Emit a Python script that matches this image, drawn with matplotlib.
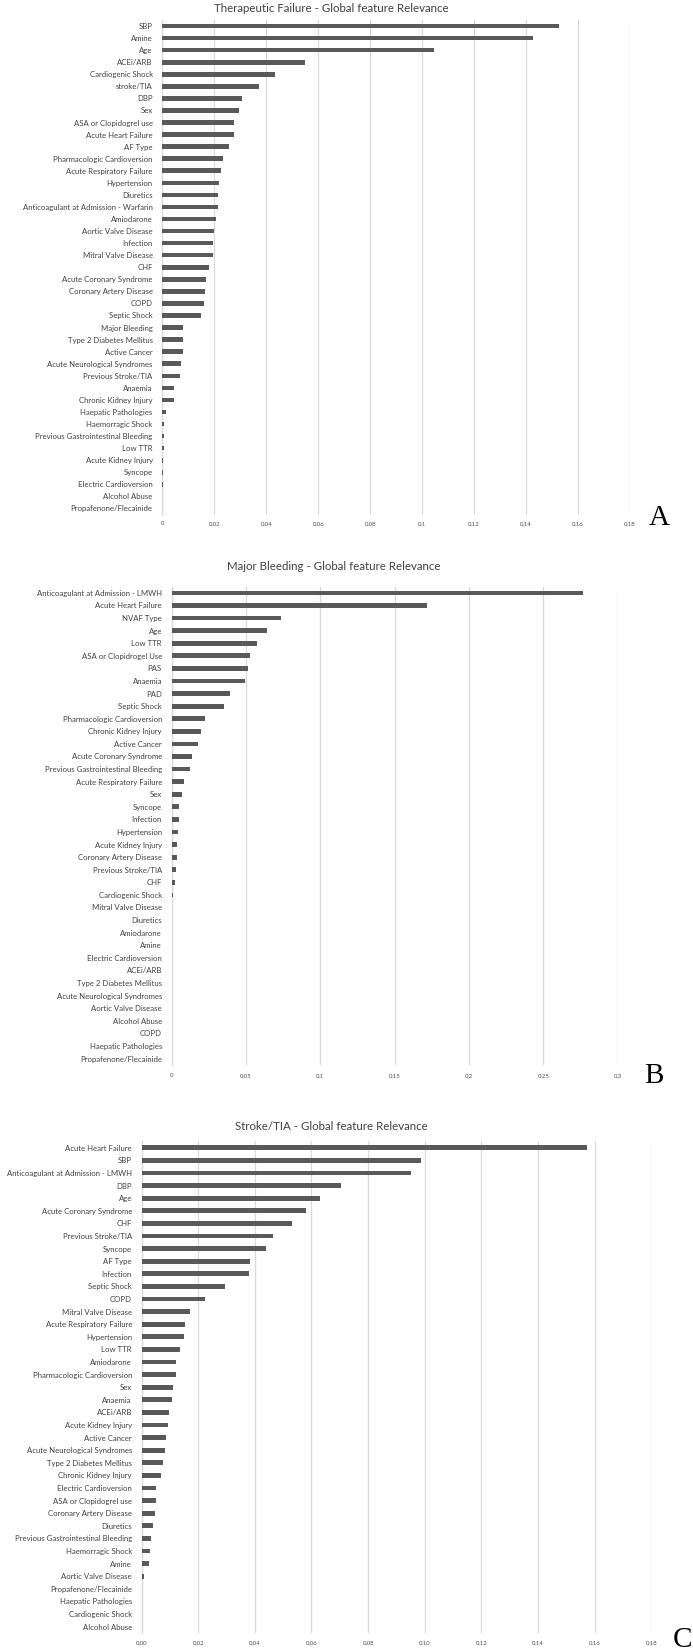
import matplotlib
matplotlib.use("Agg")
import matplotlib.pyplot as plt
from matplotlib.ticker import FuncFormatter

# Panel A - Therapeutic Failure
labels_a = ["SBP", "Amine", "Age", "ACEi/ARB", "Cardiogenic Shock", "stroke/TIA", "DBP", "Sex",
            "ASA or Clopidogrel use", "Acute Heart Failure", "AF Type", "Pharmacologic Cardioversion",
            "Acute Respiratory Failure", "Hypertension", "Diuretics",
            "Anticoagulant at Admission - Warfarin", "Amiodarone", "Aortic Valve Disease", "Infection",
            "Mitral Valve Disease", "CHF", "Acute Coronary Syndrome", "Coronary Artery Disease", "COPD",
            "Septic Shock", "Major Bleeding", "Type 2 Diabetes Mellitus", "Active Cancer",
            "Acute Neurological Syndromes", "Previous Stroke/TIA", "Anaemia", "Chronic Kidney Injury",
            "Haepatic Pathologies", "Haemorragic Shock", "Previous Gastrointestinal Bleeding", "Low TTR",
            "Acute Kidney Injury", "Syncope", "Electric Cardioversion", "Alcohol Abuse",
            "Propafenone/Flecainide"]
values_a = [0.1526, 0.1426, 0.1046, 0.0549, 0.0433, 0.0371, 0.0305, 0.0295, 0.0275, 0.0274,
            0.0256, 0.0233, 0.0227, 0.0218, 0.0215, 0.0213, 0.0208, 0.0198, 0.0194, 0.0193,
            0.0179, 0.0167, 0.0165, 0.0162, 0.0147, 0.0080, 0.0080, 0.0078, 0.0073, 0.0066,
            0.0046, 0.0046, 0.0012, 0.0007, 0.0007, 0.0005, 0.0002, 0.0002, 0.0002, 0.0, 0.0]
ticks_a = [0, 0.02, 0.04, 0.06, 0.08, 0.1, 0.12, 0.14, 0.16, 0.18]

# Panel B - Major Bleeding
labels_b = ["Anticoagulant at Admission - LMWH", "Acute Heart Failure", "NVAF Type", "Age", "Low TTR",
            "ASA or Clopidrogel Use", "PAS", "Anaemia", "PAD", "Septic Shock",
            "Pharmacologic Cardioversion", "Chronic Kidney Injury", "Active Cancer",
            "Acute Coronary Syndrome", "Previous Gastrointestinal Bleeding", "Acute Respiratory Failure",
            "Sex", "Syncope", "Infection", "Hypertension", "Acute Kidney Injury",
            "Coronary Artery Disease", "Previous Stroke/TIA", "CHF", "Cardiogenic Shock",
            "Mitral Valve Disease", "Diuretics", "Amiodarone", "Amine", "Electric Cardioversion",
            "ACEi/ARB", "Type 2 Diabetes Mellitus", "Acute Neurological Syndromes",
            "Aortic Valve Disease", "Alcohol Abuse", "COPD", "Haepatic Pathologies",
            "Propafenone/Flecainide"]
values_b = [0.2765, 0.1717, 0.0735, 0.0640, 0.0577, 0.0524, 0.0515, 0.0491, 0.0390, 0.0354,
            0.0223, 0.0199, 0.0176, 0.0134, 0.0125, 0.0086, 0.0068, 0.0048, 0.0048, 0.0042,
            0.0036, 0.0036, 0.0030, 0.0024, 0.0009, 0.0003, 0.0003, 0.0, 0.0, 0.0,
            0.0, 0.0, 0.0, 0.0, 0.0, 0.0, 0.0, 0.0]
ticks_b = [0, 0.05, 0.1, 0.15, 0.2, 0.25, 0.3]

# Panel C - Stroke/TIA
labels_c = ["Acute Heart Failure", "SBP", "Anticoagulant at Admission - LMWH", "DBP", "Age",
            "Acute Coronary Syndrome", "CHF", "Previous Stroke/TIA", "Syncope", "AF Type", "Infection",
            "Septic Shock", "COPD", "Mitral Valve Disease", "Acute Respiratory Failure", "Hypertension",
            "Low TTR", "Amiodarone", "Pharmacologic Cardioversion", "Sex", "Anaemia", "ACEi/ARB",
            "Acute Kidney Injury", "Active Cancer", "Acute Neurological Syndromes",
            "Type 2 Diabetes Mellitus", "Chronic Kidney Injury", "Electric Cardioversion",
            "ASA or Clopidogrel use", "Coronary Artery Disease", "Diuretics",
            "Previous Gastrointestinal Bleeding", "Haemorragic Shock", "Amine", "Aortic Valve Disease",
            "Propafenone/Flecainide", "Haepatic Pathologies", "Cardiogenic Shock", "Alcohol Abuse"]
values_c = [0.1573, 0.0988, 0.0952, 0.0703, 0.0630, 0.0581, 0.0531, 0.0464, 0.0441, 0.0384,
            0.0378, 0.0295, 0.0225, 0.0170, 0.0155, 0.0148, 0.0134, 0.0122, 0.0120, 0.0111,
            0.0108, 0.0095, 0.0092, 0.0086, 0.0081, 0.0075, 0.0067, 0.0050, 0.0050, 0.0047,
            0.0041, 0.0033, 0.0030, 0.0027, 0.0008, 0.0003, 0.0001, 0.0, 0.0]
ticks_c = [0, 0.02, 0.04, 0.06, 0.08, 0.10, 0.12, 0.14, 0.16, 0.18]

W, H = 693, 1652
BAR = "#595959"
GRID = "#d9d9d9"
LABEL_FONT = ["Lato", "DejaVu Sans"]

fig = plt.figure(figsize=(W / 100, H / 100), dpi=100)


def general_fmt(v, pos):
    s = ("%.2f" % v).rstrip("0").rstrip(".")
    return s.replace(".", ",")


def fixed_fmt(v, pos):
    return ("%.2f" % v).replace(".", ",")


def panel(labels, values, ticks, fmt, x0, x1, y_top, y_bot, title, title_xy, tick_y, letter, letter_xy):
    ax = fig.add_axes([x0 / W, 1 - y_bot / H, (x1 - x0) / W, (y_bot - y_top) / H])
    n = len(labels)
    ypos = list(range(n))
    ax.barh(ypos, values, height=0.38, color=BAR, zorder=3)
    ax.set_ylim(n - 0.5, -0.5)
    ax.set_xlim(0, ticks[-1])
    ax.set_yticks(ypos)
    ax.set_yticklabels(labels, family=LABEL_FONT, fontsize=5.6, color="#404040")
    ax.set_xticks(ticks)
    ax.xaxis.set_major_formatter(FuncFormatter(fmt))
    ax.tick_params(axis="y", length=0, pad=7)
    ax.tick_params(axis="x", length=0, labelsize=4.3, labelcolor="#505050",
                   pad=(tick_y - y_bot - 2) * 0.72)
    for lab in ax.get_xticklabels():
        lab.set_family(LABEL_FONT)
    ax.xaxis.grid(True, color=GRID, linewidth=0.9, zorder=0)
    for s in ["top", "right", "bottom"]:
        ax.spines[s].set_visible(False)
    ax.spines["left"].set_color(GRID)
    ax.spines["left"].set_linewidth(0.9)
    fig.text(title_xy[0] / W, 1 - title_xy[1] / H, title, ha="center", va="center",
             family=LABEL_FONT, fontsize=8.3, color="#404040")
    fig.text(letter_xy[0] / W, 1 - letter_xy[1] / H, letter, ha="center", va="center",
             family=["Liberation Serif", "DejaVu Serif"], fontsize=21, color="black")
    return ax


panel(labels_a, values_a, ticks_a, general_fmt, 162.4, 630, 20, 514.5,
      "Therapeutic Failure - Global feature Relevance", (331, 8), 523, "A", (659, 518))
panel(labels_b, values_b, ticks_b, general_fmt, 171.7, 617.7, 586.6, 1064.8,
      "Major Bleeding - Global feature Relevance", (334, 567), 1075, "B", (654, 1076))
panel(labels_c, values_c, ticks_c, fixed_fmt, 141.6, 651.3, 1141.4, 1633,
      "Stroke/TIA - Global feature Relevance", (331, 1127), 1642, "C", (683, 1640))

fig.savefig("out.png", dpi=100, facecolor="white")
